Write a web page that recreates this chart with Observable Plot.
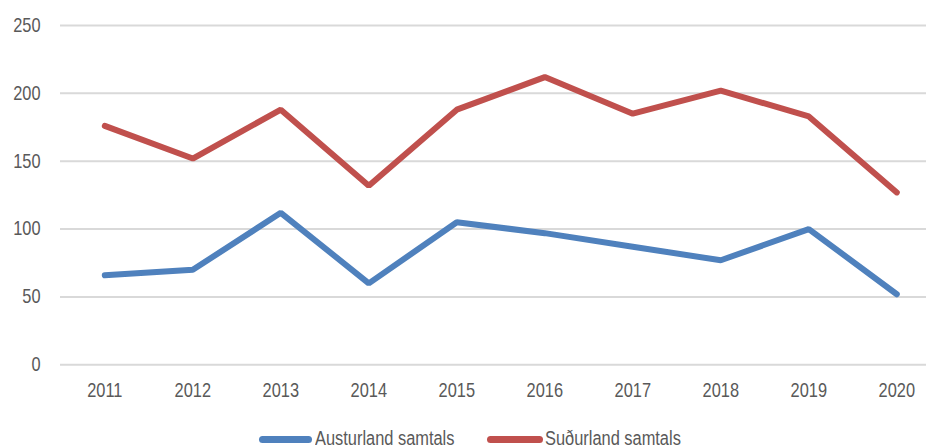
<!DOCTYPE html>
<html>
<head>
<meta charset="utf-8">
<script src="https://cdn.jsdelivr.net/npm/d3@7"></script>
<script src="https://cdn.jsdelivr.net/npm/@observablehq/plot@0.6"></script>
<style>
  html, body { margin: 0; padding: 0; background: #fff; }
  #wrap { position: relative; width: 926px; height: 448px; font-family: "Liberation Sans", Arial, sans-serif; overflow: hidden; }
  #legend { position: absolute; left: 0; top: 428px; width: 926px; height: 20px; font-size: 20px; line-height: 20px; color: #595959; white-space: nowrap; }
  .swatch { position: absolute; top: 8px; height: 7px; border-radius: 3.5px; }
  .lab { position: absolute; top: 0; transform: scaleX(0.82); transform-origin: 0 50%; }
</style>
</head>
<body>
<div id="wrap"><div id="chart"></div><div id="legend"></div></div>
<script>
const years = [2011, 2012, 2013, 2014, 2015, 2016, 2017, 2018, 2019, 2020];
const austurland = [66, 70, 112, 60, 105, 97, 87, 77, 100, 52];
const sudurland = [176, 152, 188, 132, 188, 212, 185, 202, 183, 127];
const seriesNames = ["Austurland samtals", "Suðurland samtals"];
const seriesColors = ["#4F81BD", "#C0504D"];
const yTicks = [0, 50, 100, 150, 200, 250];

const data = [];
years.forEach((yr, i) => {
  data.push({year: yr, value: austurland[i], series: seriesNames[0]});
  data.push({year: yr, value: sudurland[i], series: seriesNames[1]});
});

const font = '"Liberation Sans", Arial, sans-serif';
const chart = Plot.plot({
  width: 926,
  height: 410,
  marginLeft: 60,
  marginRight: 0,
  marginTop: 25,
  marginBottom: 46,
  style: {fontFamily: font, fontSize: "20px", color: "#595959", background: "#fff"},
  x: {type: "linear", domain: [2010.5, 2020.5], range: [60.3, 940.3], label: null},
  y: {domain: [0, 250], range: [364.3, 25], label: null},
  color: {domain: seriesNames, range: seriesColors},
  marks: [
    Plot.ruleY(yTicks, {stroke: "#d9d9d9", strokeWidth: 2}),
    Plot.axisX({ticks: years, tickFormat: d3.format("d"), tickSize: 0, tickPadding: 18.5, fontSize: 20, fontFamily: font, label: null, fill: "#595959"}),
    Plot.axisY({ticks: yTicks, tickSize: 0, tickPadding: 20, fontSize: 20, fontFamily: font, label: null, fill: "#595959"}),
    Plot.line(data, {x: "year", y: "value", z: "series", stroke: "series", strokeWidth: 6, strokeLinejoin: "miter", strokeLinecap: "round"})
  ]
});
document.getElementById("chart").appendChild(chart);

// Condense the tick labels horizontally (reference uses a narrow face)
const sx = 0.82;
chart.querySelectorAll("text").forEach(t => {
  const b = t.getBBox();
  const anchor = t.getAttribute("text-anchor") || getComputedStyle(t).textAnchor || "start";
  let px = b.x;
  if (anchor === "middle") px = b.x + b.width / 2;
  else if (anchor === "end") px = b.x + b.width;
  const tr = t.getAttribute("transform") || "";
  t.setAttribute("transform", `${tr} translate(${px},0) scale(${sx},1) translate(${-px},0)`.trim());
});

const legend = document.getElementById("legend");
const swatchX = [[259, 312], [487, 543]];
const labelX = [315, 545];
seriesNames.forEach((name, i) => {
  const sw = document.createElement("div");
  sw.className = "swatch";
  sw.style.background = seriesColors[i];
  sw.style.left = swatchX[i][0] + "px";
  sw.style.width = (swatchX[i][1] - swatchX[i][0]) + "px";
  const label = document.createElement("span");
  label.className = "lab";
  label.style.left = labelX[i] + "px";
  label.textContent = name;
  legend.appendChild(sw);
  legend.appendChild(label);
});
</script>
</body>
</html>
